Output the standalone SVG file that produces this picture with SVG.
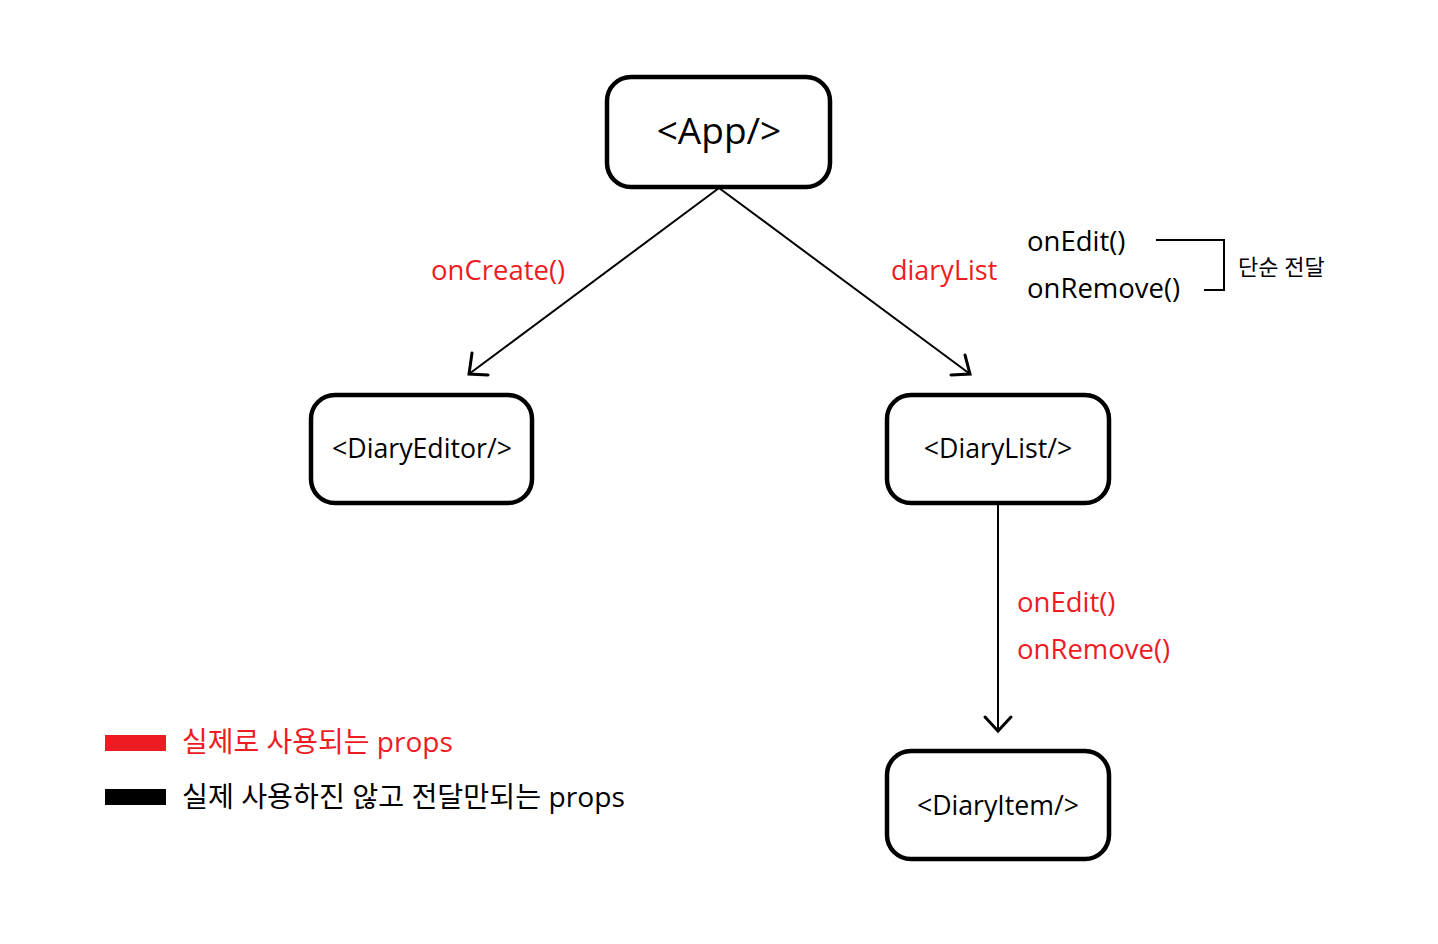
<svg xmlns="http://www.w3.org/2000/svg" width="1438" height="944" viewBox="0 0 1438 944">
<style>
.box{fill:#fff;stroke:#000;stroke-width:4.5}
.t{font-family:"Open Sans","Noto Sans CJK KR",sans-serif;fill:#000}
.r{fill:#ED1C24}
.edge{stroke:#000;stroke-width:2;fill:none}
.head{stroke:#000;stroke-width:3;fill:none;stroke-linecap:round;stroke-linejoin:miter}
</style>
<rect width="1438" height="944" fill="#fff"/>
<g id="connectors">
<line class="edge" x1="719" y1="188" x2="469" y2="374"/>
<polyline class="head" points="472,353 469,374 488,375"/>
<line class="edge" x1="719" y1="188" x2="970" y2="374"/>
<polyline class="head" points="965,355 970,374 951,375"/>
<line class="edge" x1="998" y1="504" x2="998" y2="731"/>
<polyline class="head" points="985,717 998,731 1011,717"/>
<polyline class="edge" points="1156,240 1224,240 1224,290 1204,290"/>
</g>
<g id="labels">
<text class="t r" x="431" y="280" font-size="27.5">onCreate()</text>
<text class="t r" x="891" y="280" font-size="27">diaryList</text>
<text class="t" x="1027" y="251" font-size="27.5">onEdit()</text>
<text class="t" x="1027" y="298" font-size="27.5">onRemove()</text>
<text class="t" x="1238" y="275" font-size="22">단순 전달</text>
<text class="t r" x="1017" y="612" font-size="27.5">onEdit()</text>
<text class="t r" x="1017" y="659" font-size="27.5">onRemove()</text>
</g>
<g id="app"><rect class="box" x="607" y="77" width="223" height="110" rx="24" stroke-width="5"/><text class="t" x="719" y="144" font-size="37" text-anchor="middle">&lt;App/&gt;</text></g>
<g id="diaryeditor"><rect class="box" x="311" y="395" width="221" height="108" rx="24"/><text class="t" x="422" y="458" font-size="26.7" text-anchor="middle">&lt;DiaryEditor/&gt;</text></g>
<g id="diarylist"><rect class="box" x="887" y="395" width="222" height="108" rx="24"/><text class="t" x="998" y="458" font-size="26.7" text-anchor="middle">&lt;DiaryList/&gt;</text></g>
<g id="diaryitem"><rect class="box" x="887" y="751" width="222" height="108" rx="24"/><text class="t" x="998" y="815" font-size="26.7" text-anchor="middle">&lt;DiaryItem/&gt;</text></g>
<g id="legend">
<rect x="105" y="735" width="61" height="16" fill="#ED1C24"/>
<text class="t r" x="182" y="752" font-size="28">실제로 사용되는 props</text>
<rect x="105" y="789" width="61" height="16" fill="#000"/>
<text class="t" x="182" y="807" font-size="28.2">실제 사용하진 않고 전달만되는 props</text>
</g>
</svg>
